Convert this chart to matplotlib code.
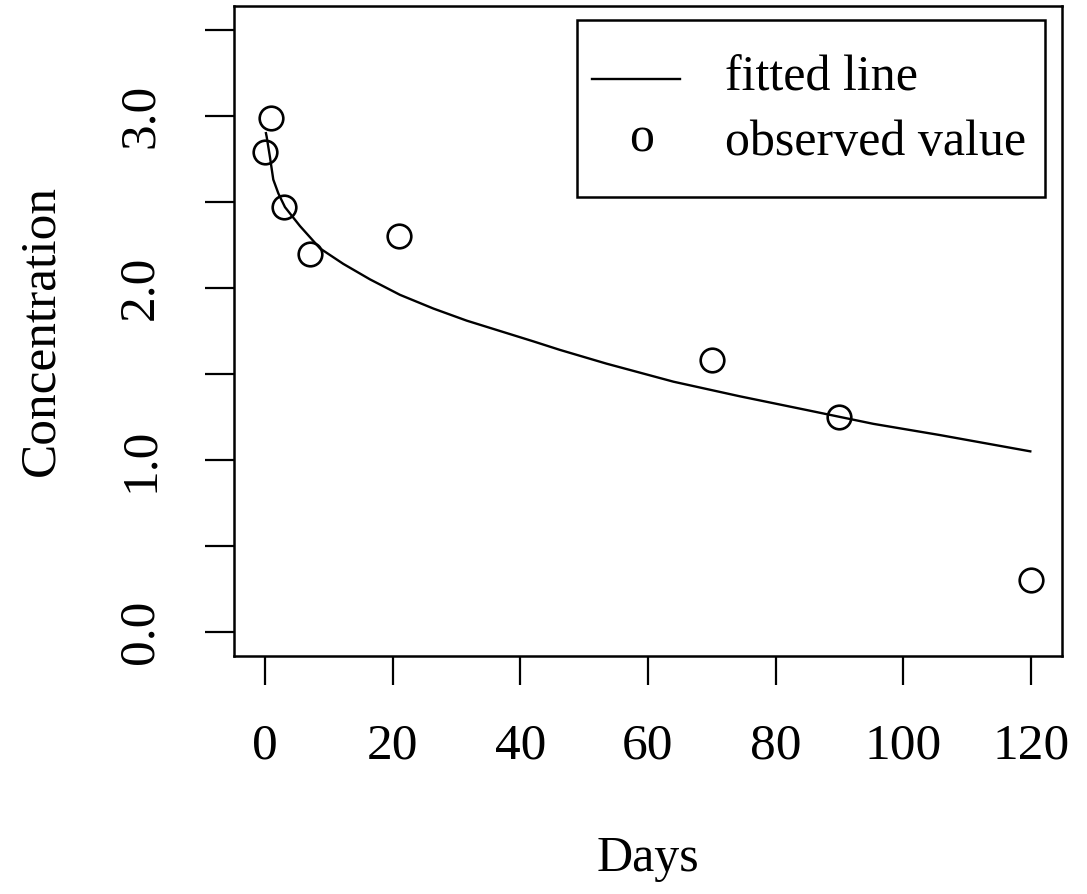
import matplotlib
matplotlib.use("Agg")
import matplotlib.pyplot as plt
from matplotlib.patches import Rectangle

days_obs = [0, 1, 3, 7, 21, 70, 90, 120]
conc_obs = [2.79, 2.99, 2.47, 2.20, 2.30, 1.58, 1.25, 0.30]

days_fit = [0.15, 0.26, 0.78, 1.30, 2.09, 3.13, 5.48, 8.62, 12.27, 16.45,
            21.15, 26.4, 31.6, 36.8, 42.0, 46.2, 53.5, 64.0, 74.4, 84.9,
            95.3, 105.7, 119.9]
conc_fit = [2.90, 2.88, 2.76, 2.63, 2.55, 2.47, 2.36, 2.23, 2.14, 2.05,
            1.96, 1.88, 1.81, 1.75, 1.69, 1.64, 1.56, 1.455, 1.37, 1.29,
            1.21, 1.145, 1.05]

x_ticks = [0, 20, 40, 60, 80, 100, 120]
y_ticks = [0, 0.5, 1.0, 1.5, 2.0, 2.5, 3.0, 3.5]
y_labels = ["0.0", "", "1.0", "", "2.0", "", "3.0", ""]

plt.rcParams['font.family'] = ['Liberation Serif', 'DejaVu Serif']

fig = plt.figure(figsize=(10.87, 8.94), dpi=100)
ax = fig.add_axes([0.2156, 0.2662, 0.9766 - 0.2156, 0.9934 - 0.2662])

ax.plot(days_fit, conc_fit, color='black', lw=1.7, solid_joinstyle='round')
ax.plot(days_obs, conc_obs, linestyle='none', marker='o', ms=17,
        mfc='none', mec='black', mew=1.9)

ax.set_xlim(-4.8, 124.8)
ax.set_ylim(-0.14, 3.64)
ax.set_xticks(x_ticks)
ax.set_xticklabels([str(t) for t in x_ticks])
ax.set_yticks(y_ticks)
ax.set_yticklabels(y_labels, rotation=90, va='center')

for s in ax.spines.values():
    s.set_linewidth(1.8)
ax.tick_params(axis='both', direction='out', length=21, width=1.6,
               labelsize=37)
ax.tick_params(axis='x', pad=27)
ax.tick_params(axis='y', pad=30)

ax.set_xlabel("Days", fontsize=36, labelpad=48)
ax.set_ylabel("Concentration", fontsize=37, labelpad=38)

# legend box
ax.add_patch(Rectangle((0.414, 0.706), 0.980 - 0.414, 0.978 - 0.706,
                       transform=ax.transAxes, fill=False, lw=1.8,
                       edgecolor='black', zorder=5))
ax.plot([0.432, 0.539], [0.888, 0.888], transform=ax.transAxes,
        color='black', lw=1.7)
ax.text(0.4927, 0.795, "o", transform=ax.transAxes, fontsize=36,
        ha='center', va='center')
ax.text(0.593, 0.888, "fitted line", transform=ax.transAxes, fontsize=36,
        ha='left', va='center')
ax.text(0.593, 0.789, "observed value", transform=ax.transAxes, fontsize=36,
        ha='left', va='center')

fig.savefig("out.png", dpi=100)
